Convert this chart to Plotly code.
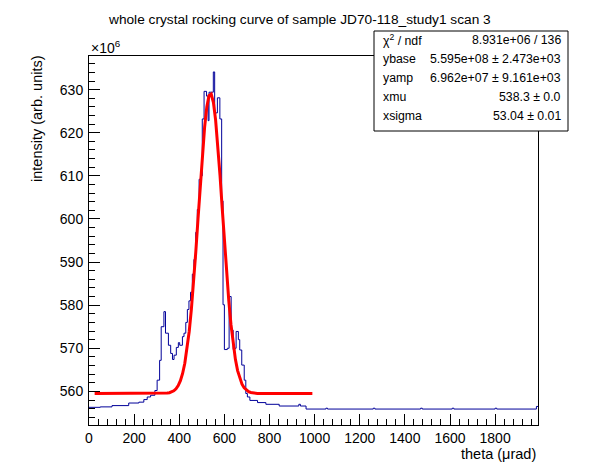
import numpy as np
import plotly.graph_objects as go

# ---------------- data (intensity in units of 1e6) ----------------
bin_edges = [0, 50, 102, 176, 221, 243, 258, 273, 292, 302, 313, 320, 332, 339,
             352, 362, 370, 377, 387, 396, 402, 414, 421, 429, 436, 443, 450,
             458, 465, 473, 480, 488, 495, 502, 510, 521, 528, 532, 551, 557,
             569, 580, 588, 594, 600, 613, 621, 630, 639, 646, 652, 662, 668,
             677, 688, 695, 702, 713, 747, 784, 843, 930, 937, 962, 1050, 1057,
             1260, 1267, 1470, 1477, 1610, 1617, 1800, 1807, 1983, 1990]
bin_values = [556.3, 556.4, 556.7, 557.3, 557.5, 558.1, 558.7, 559.1, 560.2,
              562.6, 567.2, 575.0, 578.5, 573.5, 570.7, 568.8, 567.4, 568.4,
              570.2, 571.3, 570.7, 572.7, 573.5, 576.0, 579.0, 581.0, 583.0,
              587.2, 590.6, 596.9, 602.2, 609.2, 610.0, 623.2, 629.6, 628.5,
              622.8, 629.4, 634.1, 624.6, 628.1, 623.2, 604.2, 580.1, 569.7,
              570.0, 582.0, 574.2, 569.7, 570.0, 573.9, 572.0, 569.6, 566.1,
              562.6, 559.5, 558.7, 557.9, 557.4, 557.0, 556.6, 557.0, 556.6,
              555.9, 556.1, 555.9, 556.1, 555.9, 556.1, 555.9, 556.1, 555.9,
              556.1, 555.9, 556.5]

# fit parameters (from the stats box)
fit_ybase = 559.5
fit_yamp = 69.62
fit_xmu = 538.3
fit_xsigma = 53.04
fit_range = [25, 990]

x_ticks = [0, 200, 400, 600, 800, 1000, 1200, 1400, 1600, 1800]
y_ticks = [560, 570, 580, 590, 600, 610, 620, 630]

stat_names = ["χ<sup>2</sup> / ndf", "ybase", "yamp", "xmu", "xsigma"]
stat_values = ["8.931e+06 / 136", "5.595e+08 ± 2.473e+03",
               "6.962e+07 ± 9.161e+03", "538.3 ± 0.0", "53.04 ± 0.01"]

title_text = "whole crystal rocking curve of sample JD70-118_study1 scan 3"
x_title = "theta (μrad)"
y_title = "intensity (arb. units)"

# ---------------- figure ----------------
W, H = 598, 474
L, R, T, B = 89, 538, 56, 425
FONT = "Liberation Sans, Arial, Helvetica, sans-serif"

hx = list(bin_edges)
hy = list(bin_values) + [bin_values[-1]]

fx = np.linspace(fit_range[0], fit_range[1], 100)
fy = fit_ybase + fit_yamp * np.exp(-0.5 * ((fx - fit_xmu) / fit_xsigma) ** 2)

fig = go.Figure()
fig.add_trace(go.Scatter(x=hx, y=hy, mode="lines", line_shape="hv",
                         line=dict(color="#000099", width=1), showlegend=False,
                         hoverinfo="skip"))
fig.add_trace(go.Scatter(x=fx, y=fy, mode="lines",
                         line=dict(color="#ff0000", width=3), showlegend=False,
                         hoverinfo="skip"))

def px_x(px):
    return (px - L) / (R - L)

def px_y(py):
    return (B - py) / (B - T)

axis_common = dict(showgrid=False, zeroline=False, showline=True,
                   linecolor="black", linewidth=1, mirror=True,
                   ticks="inside", tickcolor="black", tickwidth=1,
                   automargin=False, tickmode="array", tickangle=0,
                   ticklabeloverflow="allow",
                   tickfont=dict(family=FONT, size=14, color="black"))

fig.update_xaxes(range=[0, 1990], tickvals=x_ticks,
                 ticktext=[str(v) for v in x_ticks], ticklen=11,
                 minor=dict(ticks="inside", tick0=0, dtick=40, ticklen=6,
                            tickcolor="black"),
                 **axis_common)
fig.update_yaxes(range=[552.2, 637.8], tickvals=y_ticks,
                 ticktext=[str(v) for v in y_ticks], ticklen=11,
                 minor=dict(ticks="inside", tick0=0, dtick=2, ticklen=6,
                            tickcolor="black"),
                 ticklabelstandoff=2, **axis_common)

annotations = [
    dict(text=title_text, x=px_x(299), y=px_y(19), xref="paper", yref="paper",
         xanchor="center", yanchor="middle", showarrow=False,
         font=dict(family=FONT, size=13.7, color="black")),
    dict(text=x_title, x=1.0, y=px_y(454), xref="paper", yref="paper",
         showarrow=False, font=dict(family=FONT, size=14.5, color="black"),
         xanchor="right", yanchor="middle"),
    dict(text=y_title, x=px_x(37), y=px_y(119), xref="paper", yref="paper",
         showarrow=False, textangle=-90,
         font=dict(family=FONT, size=14.5, color="black"),
         xanchor="center", yanchor="middle"),
    dict(text="×10<sup>6</sup>", x=0.0, y=1.0, xref="paper", yref="paper",
         showarrow=False, font=dict(family=FONT, size=14, color="black"),
         xanchor="left", yanchor="bottom", yshift=-2),
]

row_y = [40, 59, 78, 97, 116]
for name, val, py in zip(stat_names, stat_values, row_y):
    annotations.append(dict(text=name, x=px_x(381), y=px_y(py), xref="paper",
                            yref="paper", showarrow=False, xanchor="left",
                            yanchor="middle",
                            font=dict(family=FONT, size=12.3, color="black")))
    annotations.append(dict(text=val, x=px_x(563), y=px_y(py), xref="paper",
                            yref="paper", showarrow=False, xanchor="right",
                            yanchor="middle",
                            font=dict(family=FONT, size=12.3, color="black")))

shapes = [dict(type="rect", xref="paper", yref="paper",
               x0=px_x(374), x1=px_x(568), y0=px_y(131), y1=px_y(31),
               line=dict(color="black", width=1), fillcolor="white",
               layer="above")]

fig.update_layout(width=W, height=H,
                  margin=dict(l=L, r=W - R, t=T, b=H - B, pad=0),
                  paper_bgcolor="white", plot_bgcolor="white",
                  annotations=annotations, shapes=shapes,
                  font=dict(family=FONT, color="black"))

fig.write_html("out.html", config={"displayModeBar": False},
               post_script="document.body.style.margin='0';"
                           "document.body.style.overflow='hidden';")
